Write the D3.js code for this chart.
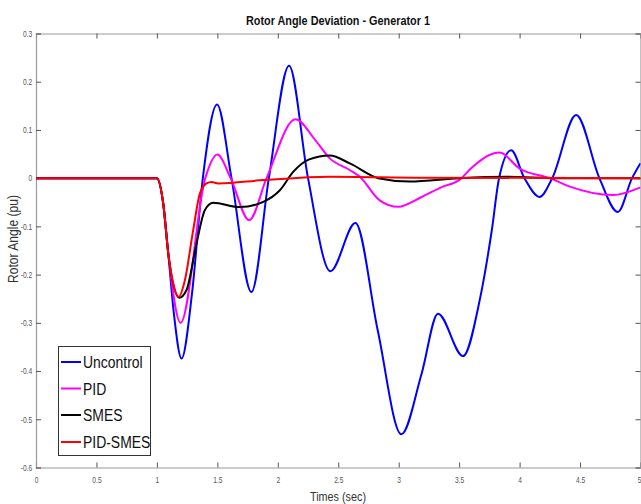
<!DOCTYPE html>
<html><head><meta charset="utf-8">
<script src="https://cdn.jsdelivr.net/npm/d3@7"></script>
<style>
html,body{margin:0;padding:0;background:#fff;}
svg{display:block;}
</style></head>
<body><svg id="c" width="641" height="504"></svg>
<script>
// ---- data ----
const seriesNames = ["Uncontrol", "PID", "SMES", "PID-SMES"];
const seriesColors = ["#0000ff", "#ff00ff", "#000000", "#ff0000"];

const tUncontrol = [0, 1.0, 1.052, 1.094, 1.14, 1.204, 1.29, 1.38, 1.498, 1.617, 1.782, 1.926, 2.093, 2.25, 2.435, 2.642, 2.826, 3.022, 3.19, 3.325, 3.532, 3.67, 3.77, 3.83, 3.93, 4.04, 4.165, 4.27, 4.468, 4.66, 4.812, 4.93, 5.0];
const vUncontrol = [0, 0, -0.052, -0.156, -0.28, -0.374, -0.24, 0, 0.153, 0, -0.236, 0, 0.233, 0, -0.193, -0.093, -0.315, -0.531, -0.405, -0.281, -0.369, -0.253, -0.108, 0, 0.058, 0, -0.039, 0, 0.131, 0, -0.070, 0, 0.031];

const tPID = [0, 1.0, 1.052, 1.094, 1.196, 1.40, 1.5, 1.61, 1.763, 1.907, 2.146, 2.31, 2.43, 2.595, 2.678, 2.843, 2.995, 3.19, 3.36, 3.50, 3.61, 3.75, 3.835, 4.0, 4.25, 4.41, 4.771, 5.0];
const vPID = [0, 0, -0.052, -0.156, -0.300, 0, 0.049, 0, -0.087, 0, 0.122, 0.079, 0.041, 0.017, 0.003, -0.046, -0.0595, -0.039, -0.018, -0.004, 0.023, 0.048, 0.053, 0.02, 0, -0.017, -0.035, -0.019];

const tSMES = [0, 1.0, 1.052, 1.094, 1.185, 1.245, 1.328, 1.397, 1.465, 1.686, 1.88, 2.017, 2.127, 2.26, 2.43, 2.6, 2.83, 3.09, 3.5, 3.9, 4.3, 5.0];
const vSMES = [0, 0, -0.052, -0.156, -0.248, -0.232, -0.135, -0.066, -0.051, -0.060, -0.049, -0.025, 0.013, 0.039, 0.047, 0.03, 0, -0.007, 0, 0.003, 0, 0];

const tPIDSMES = [0, 1.0, 1.052, 1.094, 1.135, 1.18, 1.231, 1.3, 1.355, 1.41, 1.452, 1.507, 1.88, 2.43, 3.2, 5.0];
const vPIDSMES = [0, 0, -0.052, -0.156, -0.218, -0.246, -0.212, -0.108, -0.032, -0.011, -0.008, -0.011, -0.004, 0.003, 0.001, 0];

const xTicks = [0, 0.5, 1, 1.5, 2, 2.5, 3, 3.5, 4, 4.5, 5];
const xTickLabels = ["0", "0.5", "1", "1.5", "2", "2.5", "3", "3.5", "4", "4.5", "5"];
const yTicks = [0.3, 0.2, 0.1, 0, -0.1, -0.2, -0.3, -0.4, -0.5, -0.6];
const yTickLabels = ["0.3", "0.2", "0.1", "0", "-0.1", "-0.2", "-0.3", "-0.4", "-0.5", "-0.6"];

const titleText = "Rotor Angle Deviation - Generator 1";
const xLabel = "Times (sec)";
const yLabel = "Rotor Angle (pu)";

// ---- drawing ----
const svg = d3.select("#c");
const L = 36, R = 640.5, T = 33.5, B = 467.5;
const x = d3.scaleLinear().domain([0, 5]).range([L, R]);
const y = d3.scaleLinear().domain([-0.6, 0.3]).range([B, T]);
const FONT = "Arial,'Liberation Sans',Helvetica,sans-serif";

svg.append("rect").attr("x", 0).attr("y", 0).attr("width", 641).attr("height", 504).attr("fill", "#fff");

// axes
const gx = svg.append("g").attr("transform", `translate(0,${B})`)
  .call(d3.axisBottom(x).tickValues(xTicks).tickFormat((d, i) => xTickLabels[i]).tickSize(-5).tickPadding(9));
const gxt = svg.append("g").attr("transform", `translate(0,${T})`)
  .call(d3.axisTop(x).tickValues(xTicks).tickFormat("").tickSize(-5));
const gy = svg.append("g").attr("transform", `translate(${L},0)`)
  .call(d3.axisLeft(y).tickValues(yTicks).tickFormat((d, i) => yTickLabels[i]).tickSize(-5).tickPadding(5));
const gyr = svg.append("g").attr("transform", `translate(${R},0)`)
  .call(d3.axisRight(y).tickValues(yTicks).tickFormat("").tickSize(-5));
[gx, gxt, gy, gyr].forEach(g => {
  g.select(".domain").attr("stroke", "#9a9a9a").attr("stroke-width", 1.2);
  g.selectAll(".tick line").attr("stroke", "#555");
  g.selectAll(".tick text").attr("fill", "#555").attr("font-family", FONT).attr("font-size", 8.5)
    .attr("transform", "scale(0.78,1)");
});
// last x tick label kept inside the picture
gx.selectAll(".tick text").filter((d, i) => i === xTicks.length - 1)
  .attr("text-anchor", "end").attr("x", 0.5 / 0.78);

// lines
const line = d3.line().x(d => x(d[0])).y(d => y(d[1])).curve(d3.curveMonotoneX);
const data = [
  d3.zip(tUncontrol, vUncontrol),
  d3.zip(tPID, vPID),
  d3.zip(tSMES, vSMES),
  d3.zip(tPIDSMES, vPIDSMES)
];
svg.append("clipPath").attr("id", "clp").append("rect")
  .attr("x", L).attr("y", T).attr("width", R - L).attr("height", B - T);
data.forEach((d, i) => {
  svg.append("path").datum(d).attr("d", line)
    .attr("fill", "none").attr("stroke", seriesColors[i]).attr("stroke-width", 2)
    .attr("stroke-linejoin", "round").attr("clip-path", "url(#clp)");
});

// title & labels
svg.append("text").attr("x", 246).attr("y", 25)
  .attr("font-family", FONT).attr("font-weight", "bold").attr("font-size", 13)
  .attr("textLength", 184).attr("lengthAdjust", "spacingAndGlyphs")
  .attr("fill", "#111").text(titleText);
svg.append("text").attr("x", 310).attr("y", 501)
  .attr("font-family", FONT).attr("font-size", 13.5)
  .attr("textLength", 56).attr("lengthAdjust", "spacingAndGlyphs")
  .attr("fill", "#333").text(xLabel);
svg.append("text").attr("transform", "translate(18,283) rotate(-90)")
  .attr("font-family", FONT).attr("font-size", 14)
  .attr("textLength", 88).attr("lengthAdjust", "spacingAndGlyphs")
  .attr("fill", "#333").text(yLabel);

// legend
const lg = svg.append("g");
lg.append("rect").attr("x", 58.5).attr("y", 346.5).attr("width", 92).attr("height", 109)
  .attr("fill", "#fff").attr("stroke", "#333").attr("stroke-width", 1);
const legY = [362, 388.5, 415, 442];
seriesNames.forEach((n, i) => {
  lg.append("line").attr("x1", 61).attr("x2", 81).attr("y1", legY[i]).attr("y2", legY[i])
    .attr("stroke", seriesColors[i]).attr("stroke-width", 2);
  lg.append("text").attr("transform", `translate(83,${legY[i] + 6}) scale(0.82,1)`)
    .attr("font-family", FONT).attr("font-size", 17).attr("fill", "#111").text(n);
});
</script></body></html>
